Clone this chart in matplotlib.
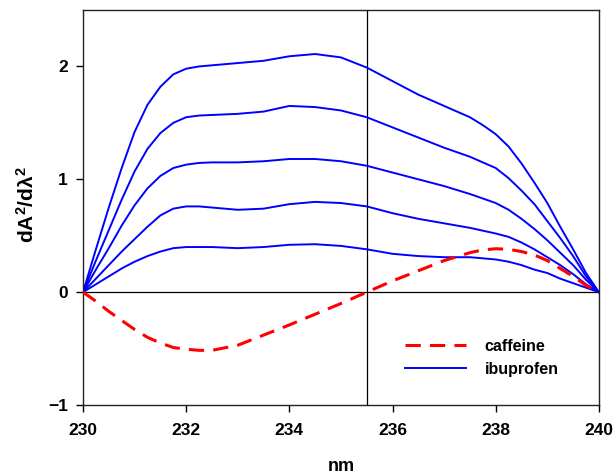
import matplotlib
matplotlib.use("Agg")
import matplotlib.pyplot as plt

wavelength = [230, 230.25, 230.5, 230.75, 231, 231.25, 231.5, 231.75, 232, 232.25, 232.5,
              233, 233.5, 234, 234.5, 235, 235.5, 236, 236.5, 237, 237.5, 237.75, 238,
              238.25, 238.5, 238.75, 239, 239.25, 239.5, 239.75, 240]

ibuprofen_1 = [0, 0.07, 0.14, 0.21, 0.27, 0.32, 0.36, 0.39, 0.40, 0.40, 0.40,
               0.39, 0.40, 0.42, 0.425, 0.41, 0.38, 0.34, 0.32, 0.31, 0.31, 0.30, 0.29,
               0.27, 0.24, 0.20, 0.17, 0.12, 0.08, 0.04, 0]
ibuprofen_2 = [0, 0.12, 0.24, 0.36, 0.47, 0.58, 0.68, 0.74, 0.76, 0.76, 0.75,
               0.73, 0.74, 0.78, 0.80, 0.79, 0.76, 0.70, 0.65, 0.61, 0.57, 0.545, 0.52,
               0.49, 0.44, 0.38, 0.31, 0.24, 0.16, 0.07, 0]
ibuprofen_3 = [0, 0.20, 0.39, 0.59, 0.77, 0.92, 1.03, 1.10, 1.13, 1.145, 1.15,
               1.15, 1.16, 1.18, 1.18, 1.16, 1.12, 1.06, 1.00, 0.94, 0.87, 0.83, 0.79,
               0.73, 0.65, 0.56, 0.46, 0.35, 0.24, 0.11, 0]
ibuprofen_4 = [0, 0.28, 0.55, 0.82, 1.07, 1.27, 1.41, 1.50, 1.55, 1.565, 1.57,
               1.58, 1.60, 1.65, 1.64, 1.61, 1.55, 1.46, 1.37, 1.28, 1.20, 1.15, 1.10,
               1.01, 0.90, 0.78, 0.63, 0.48, 0.32, 0.14, 0]
ibuprofen_5 = [0, 0.38, 0.75, 1.10, 1.42, 1.66, 1.82, 1.93, 1.98, 2.00, 2.01,
               2.03, 2.05, 2.09, 2.11, 2.08, 1.99, 1.87, 1.75, 1.65, 1.55, 1.48, 1.40,
               1.29, 1.14, 0.97, 0.79, 0.58, 0.38, 0.17, 0]
caffeine = [0, -0.08, -0.17, -0.25, -0.33, -0.40, -0.45, -0.49, -0.505, -0.515, -0.515,
            -0.47, -0.38, -0.29, -0.195, -0.10, 0.0, 0.10, 0.19, 0.28, 0.35, 0.375, 0.385,
            0.38, 0.36, 0.33, 0.28, 0.21, 0.14, 0.06, 0]

xticks = [230, 232, 234, 236, 238, 240]
yticks = [-1, 0, 1, 2]

plt.rcParams['font.family'] = ['Liberation Sans', 'DejaVu Sans']
plt.rcParams['mathtext.fontset'] = 'custom'
plt.rcParams['mathtext.rm'] = 'Liberation Sans'
plt.rcParams['mathtext.it'] = 'Liberation Sans:italic'
plt.rcParams['mathtext.bf'] = 'Liberation Sans:bold'
plt.rcParams['mathtext.default'] = 'regular'

fig = plt.figure(figsize=(6.13, 4.76), dpi=100)
ax = fig.add_axes([0.1354, 0.149, 0.8416, 0.830])

ax.axhline(0, color='black', lw=0.9, zorder=1)
ax.axvline(235.5, color='black', lw=0.9, zorder=1)

ax.plot(wavelength, caffeine, color='red', lw=2.2, dashes=(5, 3), label='caffeine', zorder=3)
first = True
for series in [ibuprofen_1, ibuprofen_2, ibuprofen_3, ibuprofen_4, ibuprofen_5]:
    ax.plot(wavelength, series, color='blue', lw=1.4,
            label='ibuprofen' if first else None, zorder=2)
    first = False

ax.set_xlim(230, 240)
ax.set_ylim(-1, 2.5)
ax.set_xticks(xticks)
ax.set_yticks(yticks)
ax.tick_params(axis='both', direction='out', length=5, width=1, labelsize=12.5)
ax.tick_params(axis='x', pad=8)
ax.tick_params(axis='y', pad=6)
for lab in ax.get_xticklabels() + ax.get_yticklabels():
    lab.set_fontweight('bold')
for sp in ax.spines.values():
    sp.set_linewidth(1)
    sp.set_color('#222222')

ax.set_xlabel('nm', fontsize=13, fontweight='bold', labelpad=14)
ax.set_ylabel('dA$^2$/dλ$^2$', fontsize=15, fontweight='bold')
ax.yaxis.set_label_coords(-0.087, 0.506)

leg = ax.legend(loc='lower right', frameon=False, fontsize=11.5, handlelength=3.8,
                bbox_to_anchor=(0.95, 0.035), labelspacing=0.5, handletextpad=1.2)
for t in leg.get_texts():
    t.set_fontweight('bold')

fig.savefig('out.png', dpi=100)
